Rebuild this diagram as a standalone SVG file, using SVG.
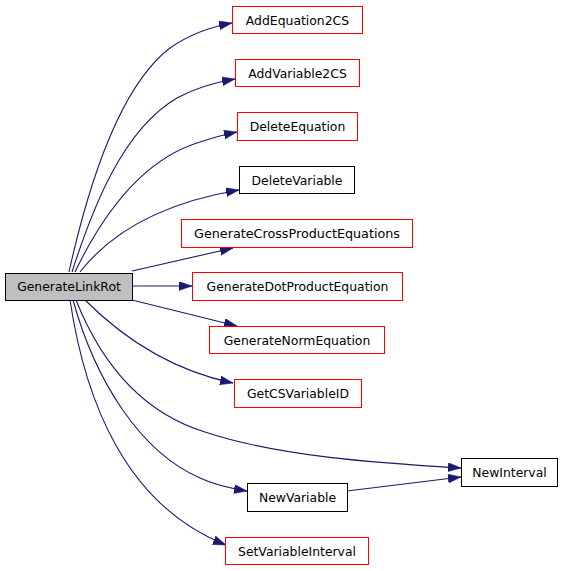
<svg xmlns="http://www.w3.org/2000/svg" width="563" height="571" viewBox="0 0 563 571">
<defs>
<marker id="ah" markerUnits="userSpaceOnUse" markerWidth="14" markerHeight="10" refX="13" refY="4.5" orient="auto">
<path d="M0,0 L13,4.5 L0,9 z" fill="#191970" stroke="#191970" stroke-width="0.5"/>
</marker>
</defs>
<style>
.n rect{fill:#ffffff;stroke-width:1}
.r rect{stroke:#ff0000}
.b rect{stroke:#000000}
.n text{font-family:"DejaVu Sans",sans-serif;font-size:12.4px;fill:#000000;text-anchor:middle}
#edges path{fill:none;stroke:#191970;stroke-width:1.1;marker-end:url(#ah)}
</style>
<rect width="563" height="571" fill="#ffffff"/>
<g id="edges">
<path d="M69,272 C 85,200 115,90 170,48 C 190,34 210,27 232,23"/>
<path d="M72,272 C 92,210 122,130 177,98 C 195,88 212,83 235,79"/>
<path d="M75,272 C 100,220 140,160 200,142 C 212,138 222,135 237,132"/>
<path d="M80,272 C 105,240 150,205 239,190"/>
<path d="M132,271 L 233,248"/>
<path d="M132,286 L 192,286"/>
<path d="M132,300 L 237,326"/>
<path d="M85,300 C 120,335 170,370 233,383"/>
<path d="M76,300 C 100,360 140,412 205,432 C 280,457 380,463 461,468"/>
<path d="M73,300 C 95,380 140,452 200,478 C 215,485 228,488 247,491"/>
<path d="M70,300 C 85,400 125,505 226,545"/>
<path d="M347,491 L 461,477"/>
</g>
<g id="GenerateLinkRot" class="n b"><rect x="5.5" y="273.5" width="127" height="27" style="fill:#bfbfbf"/><text x="69" y="291">GenerateLinkRot</text></g>
<g id="AddEquation2CS" class="n r"><rect x="232.5" y="6.5" width="130" height="27"/><text x="297.5" y="24.5">AddEquation2CS</text></g>
<g id="AddVariable2CS" class="n r"><rect x="235.5" y="59.5" width="124" height="27"/><text x="297.5" y="77.5">AddVariable2CS</text></g>
<g id="DeleteEquation" class="n r"><rect x="237.5" y="112.5" width="120" height="28"/><text x="297.5" y="131">DeleteEquation</text></g>
<g id="DeleteVariable" class="n b"><rect x="239.5" y="166.5" width="115" height="27"/><text x="297" y="184.5">DeleteVariable</text></g>
<g id="GenerateCrossProductEquations" class="n r"><rect x="181.5" y="219.5" width="231" height="28"/><text x="297" y="238" textLength="206" lengthAdjust="spacingAndGlyphs">GenerateCrossProductEquations</text></g>
<g id="GenerateDotProductEquation" class="n r"><rect x="192.5" y="272.5" width="210" height="28"/><text x="297.5" y="291">GenerateDotProductEquation</text></g>
<g id="GenerateNormEquation" class="n r"><rect x="209.5" y="326.5" width="175" height="27"/><text x="297" y="344.5">GenerateNormEquation</text></g>
<g id="GetCSVariableID" class="n r"><rect x="234.5" y="379.5" width="127" height="28"/><text x="298" y="398">GetCSVariableID</text></g>
<g id="NewInterval" class="n b"><rect x="461.5" y="458.5" width="96" height="28"/><text x="509.5" y="477">NewInterval</text></g>
<g id="NewVariable" class="n b"><rect x="247.5" y="483.5" width="100" height="28"/><text x="297.5" y="502">NewVariable</text></g>
<g id="SetVariableInterval" class="n r"><rect x="225.5" y="537.5" width="143" height="27"/><text x="297" y="555.5">SetVariableInterval</text></g>
</svg>
